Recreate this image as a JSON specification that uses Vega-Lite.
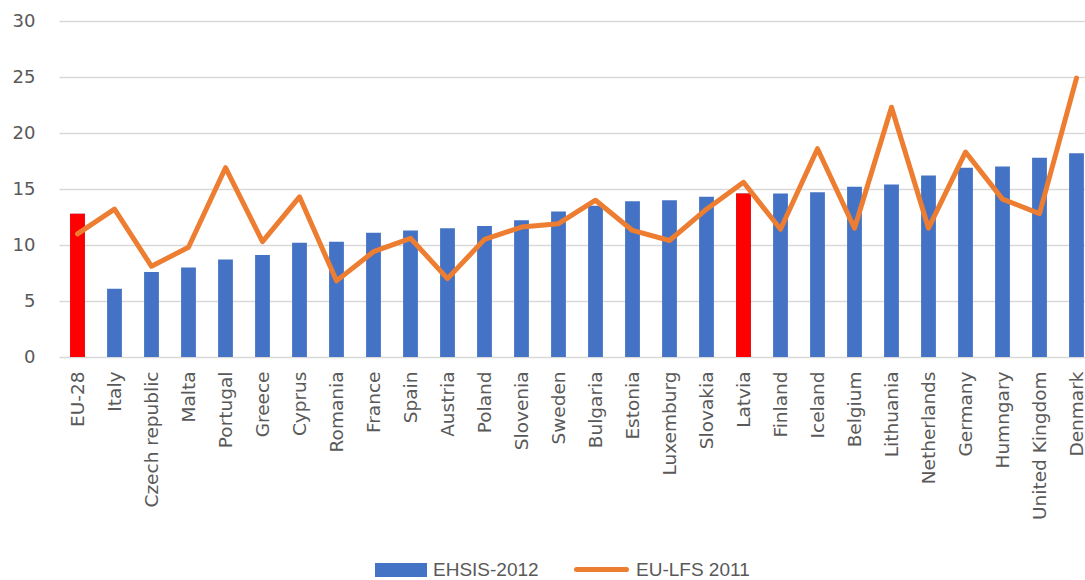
{
  "$schema": "https://vega.github.io/schema/vega-lite/v6.json",
  "width": 1026,
  "height": 336,
  "autosize": "none",
  "padding": {"left": 59, "top": 21, "right": 0, "bottom": 223},
  "background": "white",
  "config": {"view": {"stroke": null}, "font": "DejaVu Sans"},
  "data": {"values": [
    {"country": "EU-28", "ehsis": 12.8, "lfs": 11.0, "hl": true},
    {"country": "Italy", "ehsis": 6.1, "lfs": 13.2, "hl": false},
    {"country": "Czech republic", "ehsis": 7.6, "lfs": 8.1, "hl": false},
    {"country": "Malta", "ehsis": 8.0, "lfs": 9.8, "hl": false},
    {"country": "Portugal", "ehsis": 8.7, "lfs": 16.9, "hl": false},
    {"country": "Greece", "ehsis": 9.1, "lfs": 10.3, "hl": false},
    {"country": "Cyprus", "ehsis": 10.2, "lfs": 14.3, "hl": false},
    {"country": "Romania", "ehsis": 10.3, "lfs": 6.8, "hl": false},
    {"country": "France", "ehsis": 11.1, "lfs": 9.4, "hl": false},
    {"country": "Spain", "ehsis": 11.3, "lfs": 10.6, "hl": false},
    {"country": "Austria", "ehsis": 11.5, "lfs": 7.0, "hl": false},
    {"country": "Poland", "ehsis": 11.7, "lfs": 10.5, "hl": false},
    {"country": "Slovenia", "ehsis": 12.2, "lfs": 11.6, "hl": false},
    {"country": "Sweden", "ehsis": 13.0, "lfs": 11.9, "hl": false},
    {"country": "Bulgaria", "ehsis": 13.5, "lfs": 14.0, "hl": false},
    {"country": "Estonia", "ehsis": 13.9, "lfs": 11.3, "hl": false},
    {"country": "Luxemburg", "ehsis": 14.0, "lfs": 10.4, "hl": false},
    {"country": "Slovakia", "ehsis": 14.3, "lfs": 13.2, "hl": false},
    {"country": "Latvia", "ehsis": 14.6, "lfs": 15.6, "hl": true},
    {"country": "Finland", "ehsis": 14.6, "lfs": 11.4, "hl": false},
    {"country": "Iceland", "ehsis": 14.7, "lfs": 18.6, "hl": false},
    {"country": "Belgium", "ehsis": 15.2, "lfs": 11.5, "hl": false},
    {"country": "Lithuania", "ehsis": 15.4, "lfs": 22.3, "hl": false},
    {"country": "Netherlands", "ehsis": 16.2, "lfs": 11.5, "hl": false},
    {"country": "Germany", "ehsis": 16.9, "lfs": 18.3, "hl": false},
    {"country": "Humngary", "ehsis": 17.0, "lfs": 14.1, "hl": false},
    {"country": "United Kingdom", "ehsis": 17.8, "lfs": 12.8, "hl": false},
    {"country": "Denmark", "ehsis": 18.2, "lfs": 24.9, "hl": false}
  ]},
  "encoding": {
    "x": {
      "field": "country", "type": "nominal", "sort": null,
      "scale": {"range": [0, 1036], "paddingInner": 0.6, "paddingOuter": 0.3},
      "axis": {"title": null, "labelAngle": -90, "labelFontSize": 18.5, "labelColor": "#595959",
               "ticks": false, "domain": false, "labelPadding": 14, "labelFont": "DejaVu Sans"}
    }
  },
  "layer": [
    {
      "mark": {"type": "bar", "cornerRadius": 0},
      "encoding": {
        "y": {"field": "ehsis", "type": "quantitative",
              "scale": {"domain": [0, 30]},
              "axis": {"title": null, "values": [0, 5, 10, 15, 20, 25, 30], "gridColor": "#d9d9d9", "gridWidth": 1.5,
                       "domain": false, "ticks": false, "labelFontSize": 18, "labelFont": "DejaVu Sans", "labelColor": "#595959", "labelPadding": 24}},
        "fill": {"datum": "EHSIS-2012", "type": "nominal",
                 "scale": {"domain": ["EHSIS-2012"], "range": ["#4472C4"]},
                 "legend": {"title": null, "orient": "none", "legendX": 316, "legendY": 523,
                            "padding": 0, "symbolSize": 2704, "symbolType": "M-1,-0.27H1V0.27H-1Z",
                            "symbolStrokeWidth": 0, "symbolOpacity": 1,
                            "labelFontSize": 19, "labelColor": "#595959", "labelFont": "Liberation Sans",
                            "labelOffset": 6, "labelBaseline": "middle"}}
      }
    },
    {
      "transform": [{"filter": "datum.hl"}],
      "mark": {"type": "bar", "color": "#FF0000"},
      "encoding": {"y": {"field": "ehsis", "type": "quantitative"}}
    },
    {
      "mark": {"type": "line", "strokeWidth": 5, "strokeCap": "round", "strokeJoin": "round"},
      "encoding": {
        "y": {"field": "lfs", "type": "quantitative"},
        "stroke": {"datum": "EU-LFS 2011", "type": "nominal",
                   "scale": {"domain": ["EU-LFS 2011"], "range": ["#ED7D31"]},
                   "legend": {"title": null, "orient": "none", "legendX": 515, "legendY": 521,
                              "padding": 0, "symbolSize": 2500, "symbolType": "stroke",
                              "symbolStrokeWidth": 5, "symbolOpacity": 1,
                              "labelFontSize": 19, "labelColor": "#595959", "labelFont": "Liberation Sans",
                              "labelOffset": 7, "labelBaseline": "middle",
                              "encode": {"symbols": {"update": {"strokeCap": {"value": "round"}}}}}}
      }
    }
  ]
}
